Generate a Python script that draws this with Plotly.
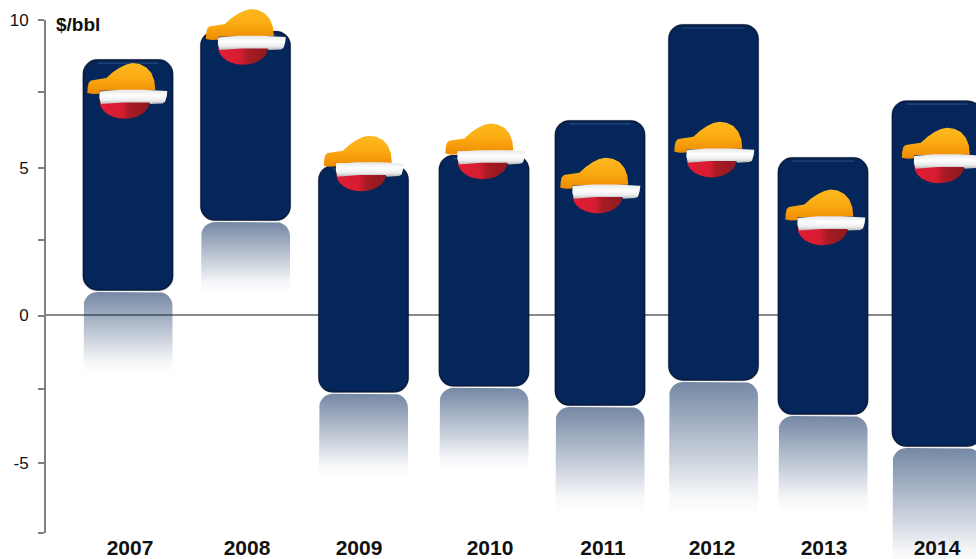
import math
import plotly.graph_objects as go

# ---- data ($/bbl) ----
years = [2007, 2008, 2009, 2010, 2011, 2012, 2013, 2014]
range_high = [8.64, 9.60, 5.05, 5.40, 6.58, 9.83, 5.32, 7.25]
range_low = [0.85, 3.22, -2.60, -2.40, -3.05, -2.20, -3.36, -4.44]
logo_value = [7.58, 9.41, 5.12, 5.53, 4.37, 5.59, 3.29, 5.39]
reflection_end = [-2.0, 0.75, -5.5, -5.3, -6.7, -6.8, -6.7, -8.6]

axis_ticks = [10, 7.55, 5, 2.55, 0, -2.5, -5, -7.36]
axis_labels = ["10", "", "5", "", "0", "", "-5", ""]

# ---- layout constants (pixels of the 976x559 canvas) ----
W, H = 976, 559
PX_PER_YEAR, PX_PER_UNIT = 115.5, 29.5
LEFT = 46
X0 = 2007 - (128 - LEFT) / PX_PER_YEAR
X1 = X0 + (W - LEFT) / PX_PER_YEAR
Y_TOP = 10 + 20 / PX_PER_UNIT
Y_BOTTOM = -(H - 315) / PX_PER_UNIT
BAR_NUDGE = [0, 2, 4.5, 9.5, 10, 8, 2, 0.5]
LABEL_NUDGE = [2, 3.5, 0, 15.5, 13, 6.5, 3, 0.5]
LOGO_NUDGE = [-1, 2, 4.5, 10.5, 10, 8.5, 4, 5]
BAR_W = 89 / PX_PER_YEAR

def bx(i):
    return years[i] + BAR_NUDGE[i] / PX_PER_YEAR

fig = go.Figure()

bar_x = [bx(i) for i in range(len(years))]
bar_h = [h - l for h, l in zip(range_high, range_low)]

# soft halo behind the bars
fig.add_trace(go.Bar(
    x=bar_x, y=bar_h, base=range_low, width=BAR_W,
    marker=dict(color="#04265a", cornerradius=14, line=dict(color="rgba(0,0,0,0.2)", width=2.5)),
    hoverinfo="skip", showlegend=False, xaxis="x", yaxis="y",
))
# floating bars
fig.add_trace(go.Bar(
    x=bar_x, y=bar_h, base=range_low, width=BAR_W,
    marker=dict(color="#04265a", cornerradius=14, line=dict(color="#0a1c3e", width=1.5)),
    hoverinfo="skip", showlegend=False, xaxis="x", yaxis="y",
))

# thin highlight under the top edge of each bar
hx, hy = [], []
for i in range(len(years)):
    inset = 14 / PX_PER_YEAR
    hx += [bar_x[i] - BAR_W / 2 + inset, bar_x[i] + BAR_W / 2 - inset, None]
    y_line = range_high[i] - 3 / PX_PER_UNIT
    hy += [y_line, y_line, None]
fig.add_trace(go.Scatter(x=hx, y=hy, mode="lines", line=dict(color="rgba(120,150,190,0.3)", width=1.2),
                         hoverinfo="skip", showlegend=False, xaxis="x", yaxis="y"))

# faded mirror below each bar
def mirror(i):
    xc, r = bx(i), 14
    xh = BAR_W / 2
    top = range_low[i] - 2 / PX_PER_UNIT
    rx, ry = r / PX_PER_YEAR, r / PX_PER_UNIT
    angles = [math.radians(a) for a in range(0, 91, 15)]
    xs = [xc - xh]
    ys = [reflection_end[i]]
    for a in angles:
        xs.append(xc - xh + rx * (1 - math.cos(a)))
        ys.append(top - ry * (1 - math.sin(a)))
    for a in reversed(angles):
        xs.append(xc + xh - rx * (1 - math.cos(a)))
        ys.append(top - ry * (1 - math.sin(a)))
    xs += [xc + xh, xc - xh]
    ys += [reflection_end[i], reflection_end[i]]
    return xs, ys

for i in range(len(years)):
    xs, ys = mirror(i)
    fig.add_trace(go.Scatter(
        x=xs, y=ys, mode="lines", line=dict(width=0), fill="toself",
        fillgradient=dict(type="vertical", colorscale=[
            [0, "rgba(4,38,90,0)"], [0.15, "rgba(4,38,90,0.04)"], [1, "rgba(4,38,90,0.55)"]]),
        hoverinfo="skip", showlegend=False, xaxis="x", yaxis="y",
    ))

# emblem outline, pixels relative to the emblem centre (y grows downward)
def to_offsets(points):
    return [((a - 162) / 3, (b - 150) / 3) for a, b in points]

def arc(cx, cy, rx, ry, a0, a1, step=15):
    n = int(abs(a1 - a0) / step)
    return [(cx + rx * math.cos(math.radians(a0 + (a1 - a0) * k / n)),
             cy - ry * math.sin(math.radians(a0 + (a1 - a0) * k / n))) for k in range(n + 1)]

CAP = to_offsets([(80, 148), (247, 146), (244, 118), (235, 95), (220, 78), (200, 68), (178, 65), (160, 69),
                  (141, 78), (120, 92), (100, 110), (54, 117), (47, 124), (44, 138), (43, 155), (60, 158),
                  (80, 157)])
BAND = to_offsets([(80, 150), (140, 145), (210, 145), (283, 149), (281, 165), (276, 182), (268, 186), (232, 188),
                   (228, 183), (150, 183), (84, 188), (79, 170)])
RED = to_offsets(arc(155, 180, 75, 52, 0, -180))

PARTS = [
    (CAP, dict(type="vertical", colorscale=[[0, "#ee8a00"], [0.5, "#fbaa12"], [1, "#fdb91e"]])),
    (RED, dict(type="horizontal", colorscale=[[0, "#e21c34"], [0.45, "#d51d30"], [0.6, "#a81a24"], [1, "#8e1a20"]])),
    (BAND, dict(type="vertical", colorscale=[[0, "#b4b4b4"], [0.25, "#ececec"], [0.6, "#ffffff"], [1, "#e6e6e6"]])),
]

for i, yr in enumerate(years):
    cx = yr + LOGO_NUDGE[i] / PX_PER_YEAR
    for pts, grad in PARTS:
        fig.add_trace(go.Scatter(
            x=[cx + p[0] / PX_PER_YEAR for p in pts] + [cx + pts[0][0] / PX_PER_YEAR],
            y=[logo_value[i] - p[1] / PX_PER_UNIT for p in pts] + [logo_value[i] - pts[0][1] / PX_PER_UNIT],
            mode="lines", line=dict(width=0), fill="toself", fillgradient=grad,
            hoverinfo="skip", showlegend=False, xaxis="x", yaxis="y",
        ))

# carrier for the visible axes (a second subplot with its own domain)
fig.add_trace(go.Scatter(x=[years[0]], y=[0], mode="markers", marker=dict(opacity=0),
                         hoverinfo="skip", showlegend=False, xaxis="x2", yaxis="y2"))

AX_FONT = "Liberation Sans, Arial, sans-serif"
fig.update_layout(
    width=W, height=H, margin=dict(l=LEFT, r=0, t=0, b=0, autoexpand=False),
    paper_bgcolor="white", plot_bgcolor="rgba(0,0,0,0)", barmode="overlay",
    font=dict(family=AX_FONT, color="#111111"),
    xaxis=dict(domain=[0, 1], range=[X0, X1], visible=False, fixedrange=True),
    yaxis=dict(domain=[0, 1], range=[Y_BOTTOM, Y_TOP], showgrid=False, showticklabels=False,
               ticks="", showline=False, zeroline=True, zerolinecolor="#8a8a8a", zerolinewidth=1.5,
               fixedrange=True),
    xaxis2=dict(domain=[0, 1], anchor="y2", range=[X0, X1], showgrid=False, zeroline=False,
                showline=False, ticks="", tickmode="array",
                tickvals=[y + n / PX_PER_YEAR for y, n in zip(years, LABEL_NUDGE)],
                ticktext=[str(y) for y in years],
                tickfont=dict(family=AX_FONT, size=21, color="#111111", weight="bold"),
                ticklabelstandoff=0, fixedrange=True),
    yaxis2=dict(anchor="x2", domain=[(H - 533) / H, (H - 20) / H], range=[-7.36, 10],
                showgrid=False, zeroline=False, showline=True, linecolor="#808080", linewidth=2,
                ticks="outside", ticklen=6, tickwidth=2, tickcolor="#808080", tickmode="array",
                tickvals=axis_ticks, ticktext=axis_labels,
                tickfont=dict(family=AX_FONT, size=17, color="#111111"),
                ticklabelstandoff=6, fixedrange=True),
    annotations=[dict(text="<b>$/bbl</b>", xref="paper", yref="paper", x=8 / (W - LEFT), y=(H - 25) / H,
                      xanchor="left", yanchor="middle", showarrow=False, font=dict(size=19, color="#111111"))],
)

fig.write_html("out.html", post_script="document.body.style.margin='0';",
               config={"displayModeBar": False})
